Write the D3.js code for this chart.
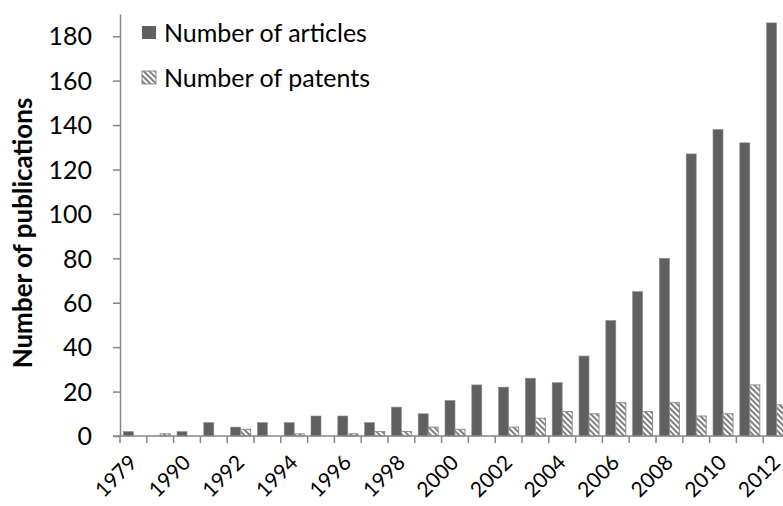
<!DOCTYPE html>
<html>
<head>
<meta charset="utf-8">
<script src="https://cdn.jsdelivr.net/npm/d3@7"></script>
<style>
  body { margin: 0; background: #fff; }
  svg { display: block; font-family: Lato, "Open Sans", sans-serif; }
</style>
</head>
<body>
<div id="chart"></div>
<script>
// categories (years) and the two series
var years = ['1979', '1989', '1990', '1991', '1992', '1993', '1994', '1995', '1996', '1997',
  '1998', '1999', '2000', '2001', '2002', '2003', '2004', '2005', '2006', '2007',
  '2008', '2009', '2010', '2011', '2012'];
var articles = [2, 0, 2, 6, 4, 6, 6, 9, 9, 6, 13, 10, 16, 23, 22, 26, 24, 36, 52, 65, 80, 127, 138, 132, 186];
var patents = [0, 1, 0, 0, 3, 0, 1, 0, 1, 2, 2, 4, 3, 0, 4, 8, 11, 10, 15, 11, 15, 9, 10, 23, 14];
var yTicks = [0, 20, 40, 60, 80, 100, 120, 140, 160, 180];
var seriesNames = ['Number of articles', 'Number of patents'];

var width = 783, height = 506;
var axisColor = '#868686';

var svg = d3.select('#chart').append('svg')
  .attr('width', width)
  .attr('height', height);

// hatch for the patents series
var defs = svg.append('defs');
defs.append('pattern')
  .attr('id', 'hatch')
  .attr('patternUnits', 'userSpaceOnUse')
  .attr('width', 4)
  .attr('height', 4)
  .attr('patternTransform', 'rotate(-45)')
  .call(function(p) {
    p.append('rect').attr('width', 4).attr('height', 4).attr('fill', '#fff');
    p.append('rect').attr('width', 2).attr('height', 4).attr('fill', '#808080');
  });

var x = d3.scaleBand()
  .domain(years)
  .range([120, 790])
  .padding(0);

var inner = d3.scaleBand()
  .domain(['a', 'p'])
  .range([0, x.bandwidth()])
  .paddingInner(0)
  .paddingOuter(0.34);

var y = d3.scaleLinear()
  .domain([0, 190])
  .range([436, 14]);

// bars
var g = svg.append('g');
g.selectAll('.art')
  .data(articles)
  .enter().append('rect')
  .attr('class', 'art')
  .attr('x', function(d, i) { return x(years[i]) + inner('a'); })
  .attr('width', inner.bandwidth())
  .attr('y', function(d) { return y(d); })
  .attr('height', function(d) { return y(0) - y(d); })
  .attr('fill', '#606060')
  .attr('stroke', '#8a8a8a')
  .attr('stroke-width', 0.6);

g.selectAll('.pat')
  .data(patents)
  .enter().append('rect')
  .attr('class', 'pat')
  .attr('x', function(d, i) { return x(years[i]) + inner('p'); })
  .attr('width', inner.bandwidth())
  .attr('y', function(d) { return y(d); })
  .attr('height', function(d) { return y(0) - y(d); })
  .attr('fill', 'url(#hatch)')
  .attr('stroke', function(d) { return d > 0 ? '#8c8c8c' : 'none'; })
  .attr('stroke-width', 1);

// y axis
var yAxis = svg.append('g')
  .attr('transform', 'translate(120,0)')
  .call(d3.axisLeft(y).tickValues(yTicks).tickSize(7).tickPadding(21).tickSizeOuter(0));
yAxis.select('.domain').attr('stroke', axisColor).attr('stroke-width', 1.5);
yAxis.selectAll('.tick line').attr('stroke', axisColor).attr('stroke-width', 1.5);
yAxis.selectAll('.tick text')
  .attr('font-size', 25)
  .attr('font-family', 'Lato, sans-serif')
  .attr('fill', '#000')
  .attr('dy', '0.35em');

// x axis line and ticks between categories
var xAxis = svg.append('g');
xAxis.append('line')
  .attr('x1', 113).attr('x2', width)
  .attr('y1', y(0)).attr('y2', y(0))
  .attr('stroke', axisColor).attr('stroke-width', 1.5);
xAxis.selectAll('.xt')
  .data(years)
  .enter().append('line')
  .attr('class', 'xt')
  .attr('x1', function(d) { return x(d); })
  .attr('x2', function(d) { return x(d); })
  .attr('y1', y(0))
  .attr('y2', y(0) + 7)
  .attr('stroke', axisColor).attr('stroke-width', 1.5);

xAxis.selectAll('.xl')
  .data(years.filter(function(d, i) { return i % 2 === 0; }))
  .enter().append('text')
  .attr('class', 'xl')
  .attr('transform', function(d) {
    return 'translate(' + (x(d) + x.bandwidth() / 2 - 4) + ',' + (y(0) + 19) + ') rotate(-45)';
  })
  .attr('text-anchor', 'end')
  .attr('dy', '0.6em')
  .attr('font-size', 21)
  .text(function(d) { return d; });

// y axis title
svg.append('text')
  .attr('transform', 'translate(23,233) rotate(-90)')
  .attr('text-anchor', 'middle')
  .attr('dy', '0.35em')
  .attr('font-size', 26)
  .attr('font-weight', 'bold')
  .text('Number of publications');

// legend
var legend = svg.append('g');
var leg = legend.selectAll('.leg')
  .data(seriesNames)
  .enter().append('g')
  .attr('class', 'leg')
  .attr('transform', function(d, i) { return 'translate(142,' + (26 + i * 45) + ')'; });
leg.append('rect')
  .attr('width', 14)
  .attr('height', 13)
  .attr('fill', function(d, i) { return i === 0 ? '#606060' : 'url(#hatch)'; })
  .attr('stroke', function(d, i) { return i === 0 ? 'none' : '#8c8c8c'; });
leg.append('text')
  .attr('x', 22)
  .attr('y', 7)
  .attr('dy', '0.35em')
  .attr('font-size', 25)
  .text(function(d) { return d; });
</script>
</body>
</html>
